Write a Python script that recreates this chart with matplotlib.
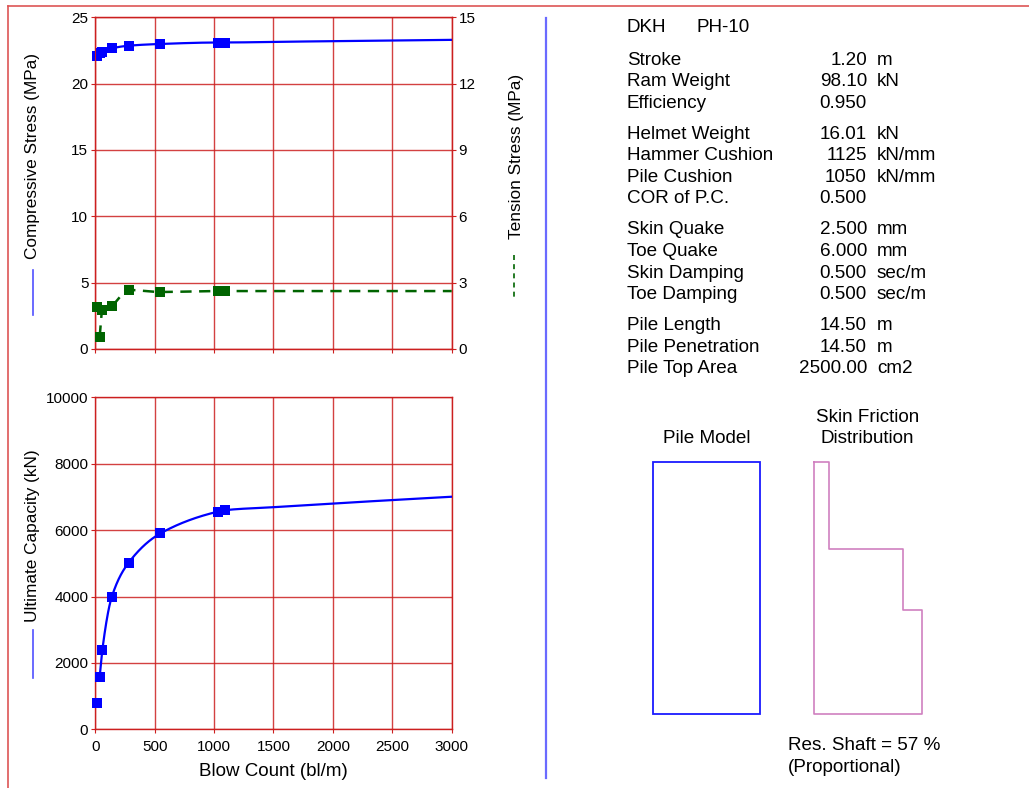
import numpy as np
import matplotlib
matplotlib.use("Agg")
import matplotlib.pyplot as plt
from matplotlib.patches import Rectangle

plt.rcParams['font.family'] = ['Liberation Sans', 'DejaVu Sans']

# ---- bearing graph data -------------------------------------------------
blow_count = [14, 37, 59, 138, 281, 548, 1036, 1093]           # bl/m
ult_capacity = [783, 1590, 2390, 3980, 5020, 5900, 6560, 6600]  # kN
comp_stress = [22.12, 22.28, 22.42, 22.66, 22.86, 22.99, 23.10, 23.10]  # MPa
tens_stress = [1.89, 0.56, 1.76, 1.96, 2.67, 2.58, 2.62, 2.62]          # MPa

# fitted-curve continuation beyond the last analysed point
tail_blows = [1500, 2000, 2500, 3000]
tail_capacity = [6690, 6800, 6905, 7005]
tail_comp = [23.15, 23.20, 23.25, 23.30]
tail_tens = [2.62, 2.62, 2.62, 2.62]

x_ticks = [0, 500, 1000, 1500, 2000, 2500, 3000]
comp_ticks = [0, 5, 10, 15, 20, 25]
tens_ticks = [0, 3, 6, 9, 12, 15]
cap_ticks = [0, 2000, 4000, 6000, 8000, 10000]

# ---- hammer / pile input summary ----------------------------------------
hammer_name = "DKH"
pile_name = "PH-10"
param_labels = [
    ["Stroke", "Ram Weight", "Efficiency"],
    ["Helmet Weight", "Hammer Cushion", "Pile Cushion", "COR of P.C."],
    ["Skin Quake", "Toe Quake", "Skin Damping", "Toe Damping"],
    ["Pile Length", "Pile Penetration", "Pile Top Area"],
]
param_values = [
    ["1.20", "98.10", "0.950"],
    ["16.01", "1125", "1050", "0.500"],
    ["2.500", "6.000", "0.500", "0.500"],
    ["14.50", "14.50", "2500.00"],
]
param_units = [
    ["m", "kN", ""],
    ["kN", "kN/mm", "kN/mm", ""],
    ["mm", "mm", "sec/m", "sec/m"],
    ["m", "m", "cm2"],
]

pile_length = 14.50
friction_depth = [0.0, 5.0, 8.5, 14.5]     # m, layer boundaries
friction_rel = [0.135, 0.83, 1.0]          # relative unit skin friction
res_shaft = 57

# ---- helpers ------------------------------------------------------------
W, H = 1029, 788
RED = '#cc1f1f'
BLUE = '#0000ff'
GREEN = '#006400'


def box(l, t, r, b):
    return [l / W, 1 - b / H, (r - l) / W, (b - t) / H]


def pchip(x, y, xn):
    """Monotone piecewise cubic through (x, y) evaluated at xn."""
    x = np.asarray(x, float)
    y = np.asarray(y, float)
    h = np.diff(x)
    d = np.diff(y) / h
    n = len(x)
    m = np.zeros(n)
    for k in range(1, n - 1):
        if d[k - 1] * d[k] > 0:
            w1 = 2 * h[k] + h[k - 1]
            w2 = h[k] + 2 * h[k - 1]
            m[k] = (w1 + w2) / (w1 / d[k - 1] + w2 / d[k])
    m[0] = d[0]
    m[-1] = d[-1]
    out = np.empty_like(xn, dtype=float)
    idx = np.clip(np.searchsorted(x, xn) - 1, 0, n - 2)
    for j, (xv, i) in enumerate(zip(xn, idx)):
        t = (xv - x[i]) / h[i]
        h00 = 2 * t**3 - 3 * t**2 + 1
        h10 = t**3 - 2 * t**2 + t
        h01 = -2 * t**3 + 3 * t**2
        h11 = t**3 - t**2
        out[j] = h00 * y[i] + h10 * h[i] * m[i] + h01 * y[i + 1] + h11 * h[i] * m[i + 1]
    return out


def curve(xs, ys, tx, ty):
    # smooth curve starts at the second analysed point
    cx = np.array(list(xs[1:]) + list(tx), float)
    cy = np.array(list(ys[1:]) + list(ty), float)
    order = np.argsort(cx, kind='stable')
    cx, cy = cx[order], cy[order]
    keep = np.concatenate([[True], np.diff(cx) > 0])
    cx, cy = cx[keep], cy[keep]
    xn = np.linspace(cx[0], cx[-1], 800)
    return xn, pchip(cx, cy, xn)


def style_axes(ax):
    for s in ax.spines.values():
        s.set_color(RED)
        s.set_linewidth(1.0)
    ax.grid(True, color=RED, linewidth=1.0, alpha=0.85)
    ax.set_axisbelow(True)
    ax.tick_params(direction='out', length=3, color=RED, labelsize=11,
                   labelcolor='black', pad=2)


fig = plt.figure(figsize=(W / 100, H / 100), dpi=100)

# ---- top: driving stresses ---------------------------------------------
ax1 = fig.add_axes(box(95.3, 17.3, 451.7, 349))
ax1.set_xlim(0, 3000)
ax1.set_ylim(0, 25)
ax1.set_xticks(x_ticks)
ax1.set_yticks(comp_ticks)
ax1.set_xticklabels([])
style_axes(ax1)

ax1t = ax1.twinx()
ax1t.set_ylim(0, 15)
ax1t.set_yticks(tens_ticks)
for s in ax1t.spines.values():
    s.set_color(RED)
ax1t.tick_params(direction='out', length=3, color=RED, labelsize=11, pad=2)

cx, cy = curve(blow_count, comp_stress, tail_blows, tail_comp)
ax1.plot(cx, cy, color=BLUE, lw=1.6, zorder=3)
ax1.plot(blow_count, comp_stress, 's', color=BLUE, ms=7.3, mew=0, zorder=4,
         clip_on=False)

tx, ty = curve(blow_count, tens_stress, tail_blows, tail_tens)
ax1t.plot(tx, ty, color=GREEN, lw=1.8, ls=(0, (4.5, 3)), zorder=3)
ax1t.plot(blow_count, tens_stress, 's', color=GREEN, ms=7.3, mew=0, zorder=4,
          clip_on=False)

# ---- bottom: bearing graph ---------------------------------------------
ax2 = fig.add_axes(box(95.3, 397.3, 451.7, 729.3))
ax2.set_xlim(0, 3000)
ax2.set_ylim(0, 10000)
ax2.set_xticks(x_ticks)
ax2.set_yticks(cap_ticks)
style_axes(ax2)
ax2.tick_params(axis='x', pad=5)

bx, by = curve(blow_count, ult_capacity, tail_blows, tail_capacity)
ax2.plot(bx, by, color=BLUE, lw=1.6, zorder=3)
ax2.plot(blow_count, ult_capacity, 's', color=BLUE, ms=7.3, mew=0, zorder=4,
         clip_on=False)

# ---- overlay for labels, frame and parameter table ----------------------
ov = fig.add_axes([0, 0, 1, 1], zorder=-1)
ov.set_xlim(0, W)
ov.set_ylim(H, 0)
ov.axis('off')

ov.plot([8, W], [6, 6], color='#dd5555', lw=1.2)
ov.plot([8, 8], [6, H], color='#dd5555', lw=1.2)
ov.plot([546, 546], [18, 778], color='#6a6aff', lw=1.6)

lab_fs = 12.4
ov.text(33, 155.5, "Compressive Stress (MPa)", rotation=90, ha='center',
        va='center', fontsize=lab_fs)
ov.plot([33, 33], [270, 315], color='#5050ff', lw=1.2)
ov.text(516, 156, "Tension Stress (MPa)", rotation=90, ha='center',
        va='center', fontsize=lab_fs)
ov.plot([514, 514], [255, 297], color=GREEN, lw=1.2, ls=(0, (3, 2.5)))
ov.text(33, 536, "Ultimate Capacity (kN)", rotation=90, ha='center',
        va='center', fontsize=lab_fs)
ov.plot([33, 33], [630, 678], color='#5050ff', lw=1.2)
ov.text(273.5, 771, "Blow Count (bl/m)", ha='center', va='center',
        fontsize=13.5)

txt_fs = 13.6
ov.text(627, 27, hammer_name, ha='left', va='center', fontsize=txt_fs)
ov.text(697, 27, pile_name, ha='left', va='center', fontsize=txt_fs)
row = 0
for g, (labs, vals, units) in enumerate(zip(param_labels, param_values, param_units)):
    for lab, val, unit in zip(labs, vals, units):
        y = 60 + 21.6 * row + 9.3 * g
        ov.text(627, y, lab, ha='left', va='center', fontsize=txt_fs)
        ov.text(867, y, val, ha='right', va='center', fontsize=txt_fs)
        if unit:
            ov.text(877, y, unit, ha='left', va='center', fontsize=txt_fs)
        row += 1

ov.text(706.5, 438, "Pile Model", ha='center', va='center', fontsize=txt_fs)
ov.text(867.5, 417, "Skin Friction", ha='center', va='center', fontsize=txt_fs)
ov.text(867.5, 438, "Distribution", ha='center', va='center', fontsize=txt_fs)
ov.text(788, 745, f"Res. Shaft = {res_shaft} %", ha='left', va='center',
        fontsize=txt_fs)
ov.text(788, 767.5, "(Proportional)", ha='left', va='center', fontsize=txt_fs)

# ---- pile model ---------------------------------------------------------
axp = fig.add_axes(box(652.7, 461.7, 760.3, 713.7))
axp.set_xlim(0, 1)
axp.set_ylim(pile_length, 0)
axp.axis('off')
axp.add_patch(Rectangle((0, 0), 1, pile_length, fill=False, edgecolor='#1a1aff',
                        lw=1.3, clip_on=False))

# ---- skin friction distribution ----------------------------------------
axf = fig.add_axes(box(814, 461.7, 921.7, 714))
axf.set_xlim(0, 1)
axf.set_ylim(pile_length, 0)
axf.axis('off')
px = [0.0]
py = [0.0]
for top, bot, f in zip(friction_depth[:-1], friction_depth[1:], friction_rel):
    px += [f, f]
    py += [top, bot]
px += [0.0, 0.0]
py += [friction_depth[-1], 0.0]
axf.plot(px, py, color='#d080c0', lw=1.2, clip_on=False)

fig.savefig("out.png", dpi=100)
